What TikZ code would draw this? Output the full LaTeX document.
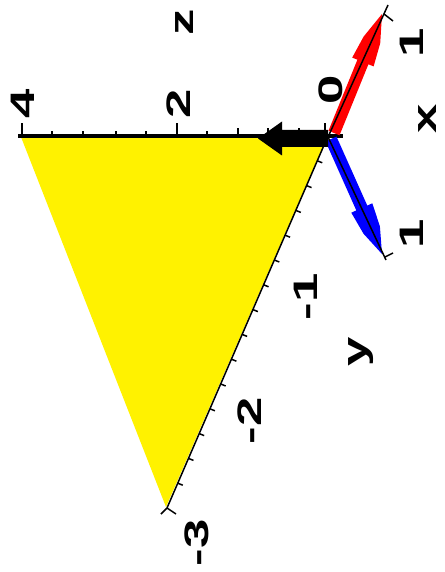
\documentclass[tikz,border=0pt]{standalone}
\usepackage{fontspec}
\usetikzlibrary{calc}
\setmainfont{Liberation Sans}
\begin{document}
\begin{tikzpicture}[x=1pt,y=-1pt,
  lbl/.style={inner sep=0pt, rotate=90, font=\fontsize{34}{34}\selectfont\bfseries},
  thinaxis/.style={line width=1.5pt, black},
  tickmark/.style={line width=1.5pt, black}]
\useasboundingbox (0,0) rectangle (444,572);
% key points
\coordinate (O) at (327,136);
\coordinate (Zleft) at (18,136);
\coordinate (Zright) at (343,136);
\coordinate (Ystart) at (328,136);
\coordinate (Yend) at (167,508);
\coordinate (Xtop) at (388,5);
\coordinate (Xbot) at (386,260);
\coordinate (Xorig) at (328,137);
% yellow triangle
\fill[yellow] (21,137) -- (327,137) -- (166,507) -- cycle;
% z axis (horizontal)
\draw[line width=3.5pt] (Zleft) -- (Zright);
\foreach \x/\h in {22/13, 52/5, 83/5, 116/5, 146/5, 177/13, 207/5, 238/8, 268/8, 299/8, 325/13}
  \draw[tickmark] (\x,136) -- (\x,136-\h);
% y axis
\draw[thinaxis] (Ystart) -- (Yend);
\foreach \k in {1,...,14}
  \draw[tickmark] ($(Ystart)!\k/15!(Yend)$) -- ++(5,2);
\draw[tickmark] (Yend) -- ++(-6,6);
\draw[tickmark] (Yend) -- ++(9,6);
% red vector
\fill[red] (339.5,135.3) -- (368.4,64.3) -- (373.6,66.4) -- (380.2,43.4) -- (382,14)
  -- (363.6,36.6) -- (352.2,57.6) -- (357.4,59.7) -- (328.5,130.7) -- cycle;
% blue vector
\fill[blue] (336.5,136.6) -- (367.3,205.6) -- (372.3,203.3) -- (379.9,226.3) -- (382,254)
  -- (363.5,233.7) -- (351.3,212.7) -- (356.3,210.4) -- (325.5,141.4) -- cycle;
% thin x axis lines
\draw[thinaxis] (Xorig) -- (Xtop);
\draw[thinaxis] (Xorig) -- (Xbot);
\draw[tickmark] (384,14) -- (393,21);
\draw[tickmark] (385,257) -- (393,253);
% thick black arrow
\fill[black] (328,130) -- (282,130) -- (282,121.5) -- (258,138.5) -- (282,155.5)
  -- (282,147) -- (328,147) -- cycle;
% labels
\node[lbl] (lz) at (185,22) {\scalebox{1.55}[1]{z}};
\node[lbl] (l4) at (23,104) {\scalebox{1.55}[1]{4}};
\node[lbl] (l2) at (179,104) {\scalebox{1.55}[1]{2}};
\node[lbl] (l0) at (331,90) {\scalebox{1.55}[1]{0}};
\node[lbl] (lx1) at (412,43) {\scalebox{1.55}[1]{1}};
\node[lbl] (lx) at (428,119) {\scalebox{1.55}[1]{x}};
\node[lbl] (lx2) at (412,234) {\scalebox{1.55}[1]{1}};
\node[lbl] (lym1) at (306,297) {\scalebox{1.55}[1]{-1}};
\node[lbl] (ly) at (361,352) {\scalebox{1.55}[1]{y}};
\node[lbl] (lym2) at (250,421) {\scalebox{1.55}[1]{-2}};
\node[lbl] (lym3) at (197,543) {\scalebox{1.55}[1]{-3}};
\end{tikzpicture}
\end{document}
